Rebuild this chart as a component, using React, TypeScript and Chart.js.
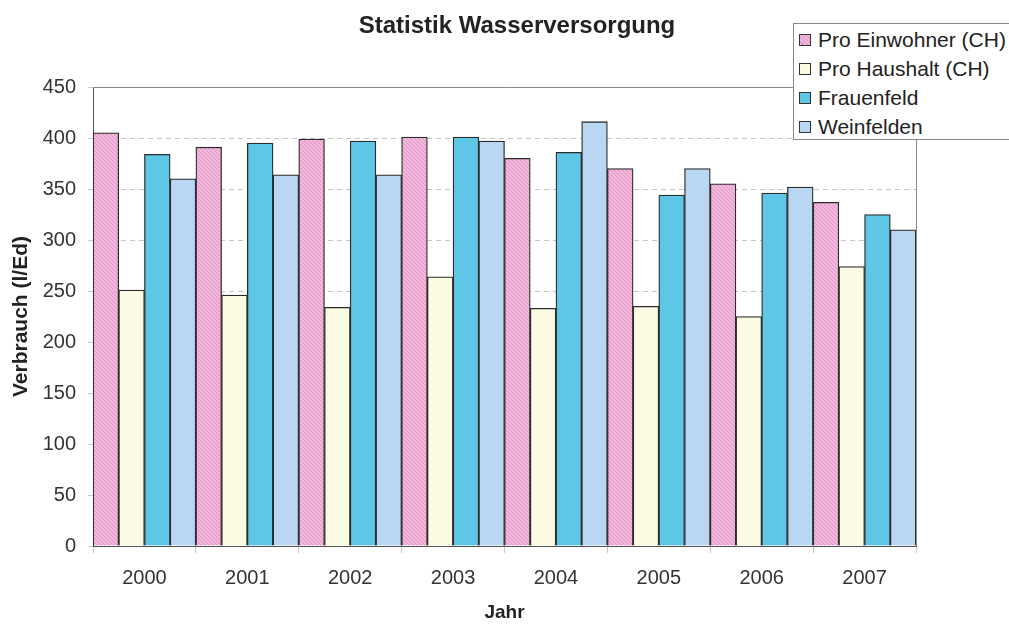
import React, { useEffect, useRef } from "react";
import { Chart, registerables } from "chart.js";

Chart.register(...registerables);

const years = ["2000", "2001", "2002", "2003", "2004", "2005", "2006", "2007"];
const proEinwohner = [405, 391, 399, 401, 380, 370, 355, 337];
const proHaushalt = [251, 246, 234, 264, 233, 235, 225, 274];
const frauenfeld = [384, 395, 397, 401, 386, 344, 346, 325];
const weinfelden = [360, 364, 364, 397, 416, 370, 352, 310];
const seriesNames = ["Pro Einwohner (CH)", "Pro Haushalt (CH)", "Frauenfeld", "Weinfelden"];
const yTicks = [0, 50, 100, 150, 200, 250, 300, 350, 400, 450];

const FONT = "'Liberation Sans', Arial, sans-serif";
const PINK = "#f2b8dc";
const PINK_STRIPE = "#e394c6";
const CREAM = "#fafbe2";
const CYAN = "#5ec7e6";
const LIGHTBLUE = "#b9d7f3";

function makeHatch(): CanvasPattern | string {
  const c = document.createElement("canvas");
  c.width = 4;
  c.height = 4;
  const ctx = c.getContext("2d");
  if (!ctx) return PINK;
  ctx.fillStyle = PINK;
  ctx.fillRect(0, 0, 4, 4);
  ctx.strokeStyle = PINK_STRIPE;
  ctx.lineWidth = 1;
  ctx.beginPath();
  ctx.moveTo(0, 0);
  ctx.lineTo(4, 4);
  ctx.moveTo(-2, 2);
  ctx.lineTo(2, 6);
  ctx.moveTo(2, -2);
  ctx.lineTo(6, 2);
  ctx.stroke();
  const p = ctx.createPattern(c, "repeat");
  return p || PINK;
}

const frame = {
  id: "frame",
  beforeDatasetsDraw(chart: any) {
    const { ctx, chartArea } = chart;
    ctx.save();
    ctx.strokeStyle = "#8a8a8a";
    ctx.lineWidth = 1;
    ctx.setLineDash([]);
    ctx.beginPath();
    ctx.moveTo(chartArea.left, chartArea.top + 0.5);
    ctx.lineTo(chartArea.right + 0.5, chartArea.top + 0.5);
    ctx.lineTo(chartArea.right + 0.5, chartArea.bottom);
    ctx.stroke();
    ctx.restore();
  },
  afterDraw(chart: any) {
    const { ctx } = chart;
    ctx.save();
    ctx.fillStyle = "#222";
    ctx.font = `bold 24px ${FONT}`;
    ctx.textAlign = "center";
    ctx.textBaseline = "alphabetic";
    ctx.fillText("Statistik Wasserversorgung", 517, 33);
    ctx.restore();
  },
};

export default function App() {
  const ref = useRef<HTMLCanvasElement | null>(null);

  useEffect(() => {
    if (!ref.current) return;
    const hatch = makeHatch();
    const colors = [hatch, CREAM, CYAN, LIGHTBLUE];
    const values = [proEinwohner, proHaushalt, frauenfeld, weinfelden];
    const chart = new Chart(ref.current, {
      type: "bar",
      data: {
        labels: years,
        datasets: seriesNames.map((name, i) => ({
          label: name,
          data: values[i],
          backgroundColor: colors[i] as any,
          borderColor: "#2b2b2b",
          borderWidth: 1.3,
          categoryPercentage: 1,
          barPercentage: 1,
        })),
      },
      options: {
        animation: false,
        responsive: false,
        devicePixelRatio: 1,
        layout: { padding: { top: 87, right: 93, left: 0, bottom: 0 } },
        plugins: {
          legend: { display: false },
          tooltip: { enabled: false },
          title: { display: false },
        },
        scales: {
          x: {
            grid: {
              display: true,
              drawOnChartArea: false,
              drawTicks: true,
              tickLength: 7,
              color: "#c8c8c8",
              offset: true,
            },
            border: { display: true, color: "#555", width: 1 },
            ticks: {
              color: "#333",
              font: { family: FONT, size: 20 },
              padding: 13,
            },
            title: {
              display: true,
              text: "Jahr",
              color: "#222",
              font: { family: FONT, size: 19, weight: "bold" },
              padding: { top: 4, bottom: 0 },
            },
            afterFit(s: any) {
              s.height = 78;
            },
          },
          y: {
            min: 0,
            max: 450,
            afterBuildTicks(s: any) {
              s.ticks = yTicks.map((v) => ({ value: v }));
            },
            grid: {
              color: "#c4c4c4",
              tickLength: 5,
              tickColor: "#c8c8c8",
              drawTicks: true,
              tickBorderDash: [],
            },
            border: { display: true, color: "#555", width: 1, dash: [5, 4] },
            ticks: {
              color: "#333",
              font: { family: FONT, size: 20 },
              padding: 12,
            },
            title: {
              display: true,
              text: "Verbrauch (l/Ed)",
              color: "#222",
              font: { family: FONT, size: 21, weight: "bold" },
              padding: { top: 9, bottom: 0 },
            },
            afterFit(s: any) {
              s.width = 93;
            },
          },
        },
      },
      plugins: [frame],
    });
    return () => chart.destroy();
  }, []);

  const hatchCss = `repeating-linear-gradient(45deg, ${PINK} 0px, ${PINK} 2px, ${PINK_STRIPE} 2px, ${PINK_STRIPE} 3px)`;
  const swatches = [hatchCss, CREAM, CYAN, LIGHTBLUE];

  return (
    <div style={{ position: "fixed", left: 0, top: 0, width: 1009, height: 624, background: "#fff" }}>
      <canvas ref={ref} width={1009} height={624} style={{ display: "block" }} />
      <div
        style={{
          position: "absolute",
          left: 793,
          top: 23,
          width: 216,
          height: 117,
          boxSizing: "border-box",
          border: "1px solid #888",
          borderRight: "none",
          background: "#fff",
          fontFamily: FONT,
          fontSize: 21,
          color: "#222",
          paddingTop: 1,
          whiteSpace: "nowrap",
          overflow: "hidden",
        }}
      >
        {seriesNames.map((n, i) => (
          <div key={n} style={{ display: "flex", alignItems: "center", height: 29, paddingLeft: 5 }}>
            <span
              style={{
                display: "inline-block",
                flex: "0 0 auto",
                width: 10,
                height: 10,
                border: "1px solid #333",
                background: swatches[i],
                marginRight: 7,
              }}
            />
            <span>{n}</span>
          </div>
        ))}
      </div>
    </div>
  );
}
